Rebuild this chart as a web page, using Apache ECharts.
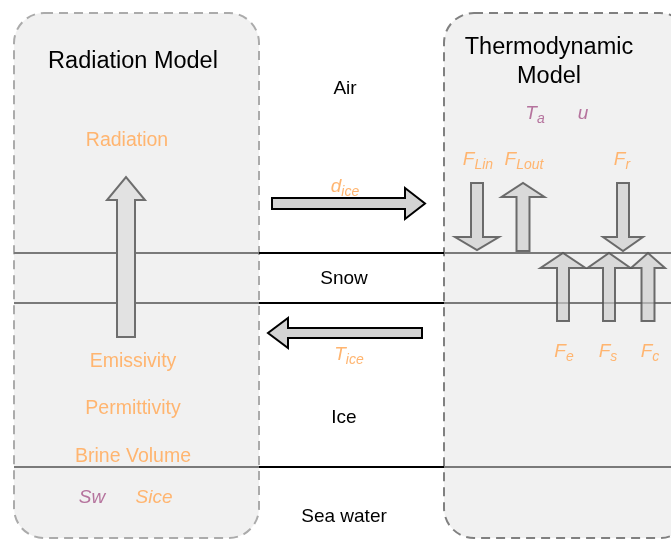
<!DOCTYPE html>
<html>
<head>
<meta charset="utf-8">
<script src="https://cdn.jsdelivr.net/npm/echarts@6/dist/echarts.min.js"></script>
<style>
html, body { margin: 0; padding: 0; background: #fff; }
#main { width: 671px; height: 539px; }
</style>
</head>
<body>
<div id="main"></div>
<script>
// 模型框: [x0, y0, x1, y1]
var boxes = [[14, 13, 259, 538], [444, 13, 690, 538]];
var boxKinds = ['radiation', 'thermo'];
// 分层线 y, 以及分段 x (框内灰色, 中间黑色)
var layerLines = [253, 303, 467];
var lineStops = [14, 259, 444, 671];
// 箭头: [tailX, tailY, tipX, tipY, 杆半宽, 头半宽, 头长]
var arrows = [
  [126, 337, 126, 177, 9, 19, 23],
  [272, 203.5, 425, 203.5, 5.5, 15.5, 20],
  [422, 333, 268, 333, 5, 15, 20],
  [477, 183, 477, 250, 6, 22, 13],
  [523, 251, 523, 183, 6.5, 21.5, 14],
  [623, 183, 623, 251, 6, 20, 14],
  [563, 321, 563, 253, 6, 22.5, 15],
  [609, 321, 609, 253, 6, 21.5, 15],
  [648, 321, 648, 253, 6.5, 17, 15]
];
var arrowKinds = ['radiation', 'exchange', 'exchange', 'flux', 'flux', 'flux', 'flux', 'flux', 'flux'];
// 文字: [text, x, y]
var titleLabels = [['Radiation Model', 133, 60], ['Thermodynamic', 549, 46], ['Model', 549, 75]];
var layerLabels = [['Air', 345, 87], ['Snow', 344, 277], ['Ice', 344, 416], ['Sea water', 344, 515]];
var paramLabels = [['Radiation', 127, 139], ['Emissivity', 133, 360], ['Permittivity', 133, 407], ['Brine Volume', 133, 455]];
// 变量: [主符号, 下标, x, y, 颜色类别]
var varLabels = [
  ['Sw', '', 92, 496, 'p'], ['Sice', '', 154, 496, 'o'],
  ['T', 'a', 535, 112, 'p'], ['u', '', 583, 112, 'p'],
  ['F', 'Lin', 478, 158, 'o'], ['F', 'Lout', 524, 158, 'o'], ['F', 'r', 622, 158, 'o'],
  ['F', 'e', 564, 350, 'o'], ['F', 's', 608, 350, 'o'], ['F', 'c', 650, 350, 'o'],
  ['d', 'ice', 345, 185, 'o'], ['T', 'ice', 349, 353, 'o']
];

var ORANGE = '#FFB570';
var PURPLE = '#B5739D';
var FONT = '"Liberation Sans", Arial, Helvetica, sans-serif';
var TEXT_SHIFT = 2; // 文字基线微调

var lineSegs = [];
layerLines.forEach(function (y) {
  for (var i = 0; i < lineStops.length - 1; i++) {
    lineSegs.push([lineStops[i], y, lineStops[i + 1], y, i === 1 ? 1 : 0]);
  }
});

var texts = [];
titleLabels.forEach(function (t) { texts.push({ value: [t[1], t[2]], txt: t[0], kind: 'title' }); });
layerLabels.forEach(function (t) { texts.push({ value: [t[1], t[2]], txt: t[0], kind: 'layer' }); });
paramLabels.forEach(function (t) { texts.push({ value: [t[1], t[2]], txt: t[0], kind: 'param' }); });
varLabels.forEach(function (t) {
  var txt = '{m|' + t[0] + '}' + (t[1] ? '{s|' + t[1] + '}' : '');
  texts.push({ value: [t[2], t[3]], txt: txt, kind: 'var', color: t[4] === 'p' ? PURPLE : ORANGE });
});

function arrowPoints(a, api) {
  var t = api.coord([a[0], a[1]]);
  var h = api.coord([a[2], a[3]]);
  var dx = h[0] - t[0], dy = h[1] - t[1];
  var len = Math.sqrt(dx * dx + dy * dy);
  var ux = dx / len, uy = dy / len;
  var nx = -uy, ny = ux;
  var bx = h[0] - ux * a[6], by = h[1] - uy * a[6];
  var s = a[4], w = a[5];
  return [
    [t[0] + nx * s, t[1] + ny * s],
    [bx + nx * s, by + ny * s],
    [bx + nx * w, by + ny * w],
    [h[0], h[1]],
    [bx - nx * w, by - ny * w],
    [bx - nx * s, by - ny * s],
    [t[0] - nx * s, t[1] - ny * s]
  ];
}

var myChart = echarts.init(document.getElementById('main'));
var option = {
  animation: false,
  backgroundColor: '#fff',
  grid: { left: 0, right: 0, top: 0, bottom: 0 },
  xAxis: { type: 'value', min: 0, max: 671, show: false },
  yAxis: { type: 'value', min: 0, max: 539, inverse: true, show: false },
  series: [
    {
      // 两个模型框
      type: 'custom',
      data: boxes,
      renderItem: function (params, api) {
        var p0 = api.coord([api.value(0), api.value(1)]);
        var p1 = api.coord([api.value(2), api.value(3)]);
        var kind = boxKinds[params.dataIndex];
        return {
          type: 'rect',
          shape: { x: p0[0], y: p0[1], width: p1[0] - p0[0], height: p1[1] - p0[1], r: 30 },
          style: {
            fill: '#f1f1f1',
            stroke: kind === 'radiation' ? '#ababab' : '#808080',
            lineWidth: 2,
            lineDash: [9, 6]
          }
        };
      }
    },
    {
      // 分层线
      type: 'custom',
      data: lineSegs,
      renderItem: function (params, api) {
        var p0 = api.coord([api.value(0), api.value(1)]);
        var p1 = api.coord([api.value(2), api.value(3)]);
        var black = api.value(4) === 1;
        return {
          type: 'line',
          shape: { x1: p0[0], y1: p0[1], x2: p1[0], y2: p1[1] },
          style: { stroke: black ? '#000' : '#7a7a7a', lineWidth: 2 }
        };
      }
    },
    {
      // 箭头
      type: 'custom',
      data: arrows,
      renderItem: function (params, api) {
        var a = arrows[params.dataIndex];
        var kind = arrowKinds[params.dataIndex];
        var style;
        if (kind === 'radiation') {
          style = { fill: '#e2e2e2', stroke: '#6e6e6e', lineWidth: 2 };
        } else if (kind === 'exchange') {
          style = { fill: '#d3d3d3', stroke: '#000', lineWidth: 2 };
        } else {
          style = { fill: 'rgba(205,205,205,0.65)', stroke: 'rgba(85,85,85,0.85)', lineWidth: 2 };
        }
        style.lineJoin = 'miter';
        return { type: 'polygon', shape: { points: arrowPoints(a, api) }, style: style };
      }
    },
    {
      // 文字
      type: 'custom',
      data: texts,
      renderItem: function (params, api) {
        var d = texts[params.dataIndex];
        var p = api.coord([api.value(0), api.value(1) + TEXT_SHIFT]);
        var style = { text: d.txt, align: 'center', verticalAlign: 'middle', fontFamily: FONT };
        if (d.kind === 'title') {
          style.fontSize = 23.5; style.fill = '#000';
        } else if (d.kind === 'layer') {
          style.fontSize = 19; style.fill = '#000';
        } else if (d.kind === 'param') {
          style.fontSize = 19.5; style.fill = ORANGE;
        } else {
          style.fontSize = 19; style.fill = d.color; style.fontStyle = 'italic';
          style.rich = {
            m: { fontSize: 19, fontStyle: 'italic', fontFamily: FONT, fill: d.color, lineHeight: 24, verticalAlign: 'middle' },
            s: { fontSize: 14, fontStyle: 'italic', fontFamily: FONT, fill: d.color, lineHeight: 14, verticalAlign: 'bottom' }
          };
        }
        return { type: 'text', x: p[0], y: p[1], style: style };
      }
    }
  ]
};
myChart.setOption(option);
</script>
</body>
</html>
